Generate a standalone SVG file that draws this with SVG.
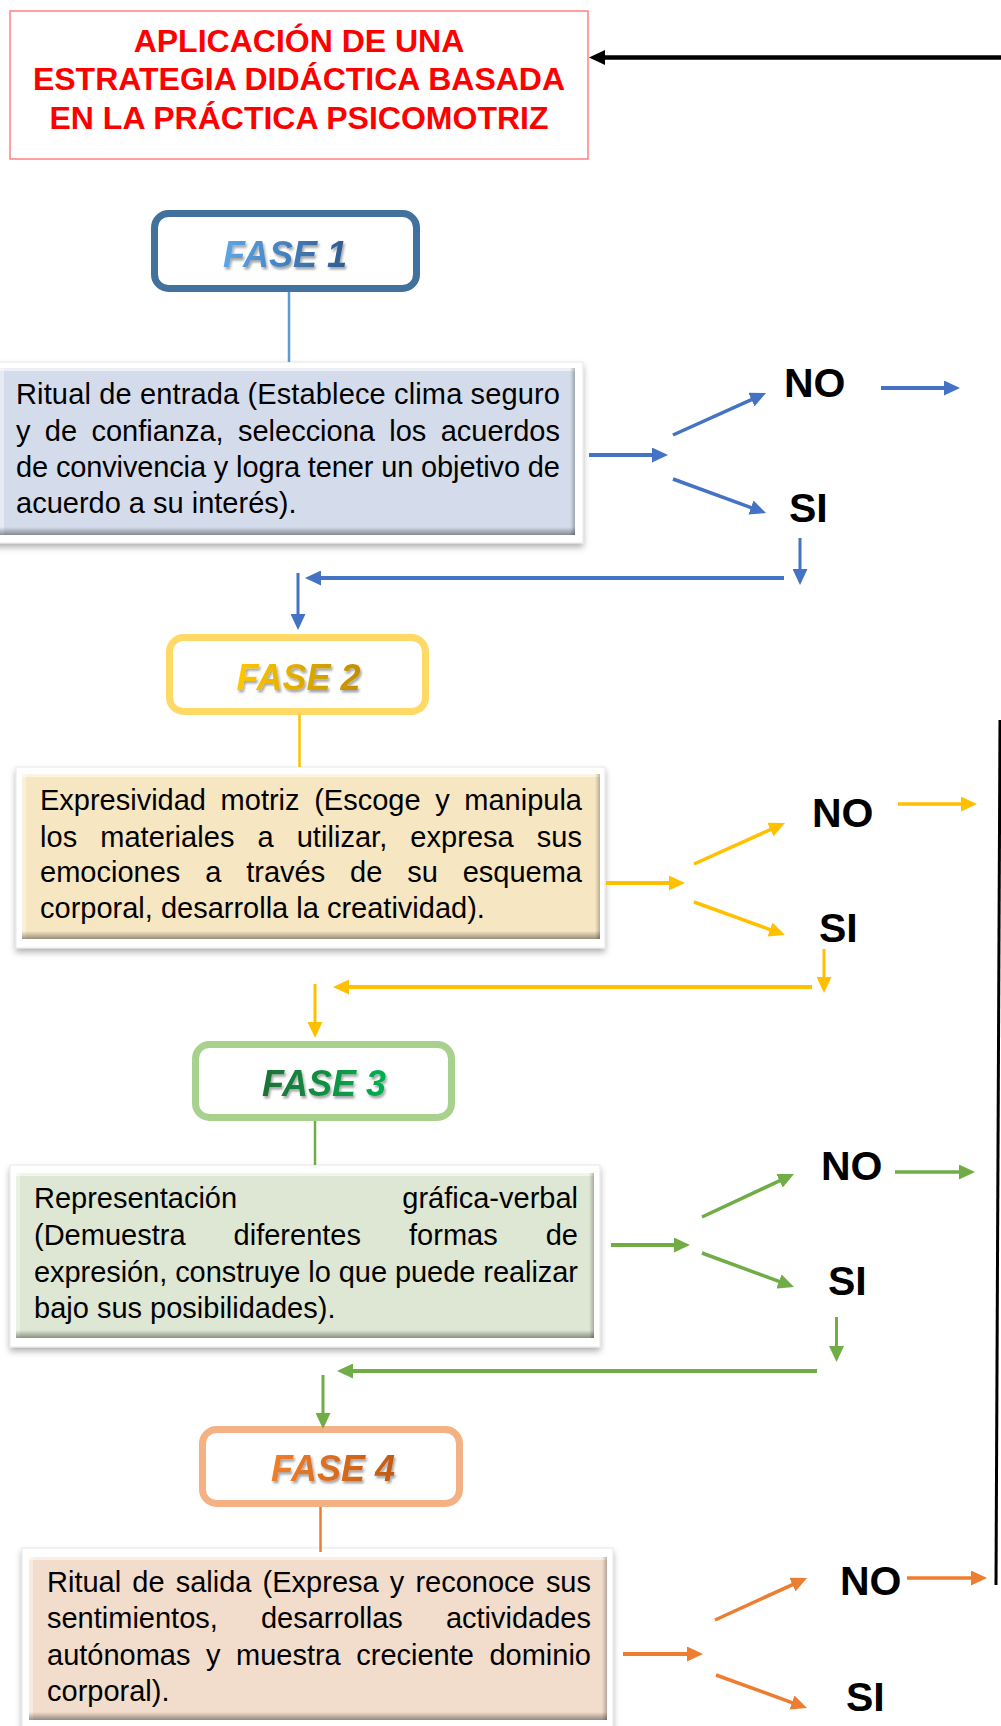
<svg xmlns="http://www.w3.org/2000/svg" width="1001" height="1726" viewBox="0 0 1001 1726">
<style>
.title{font-family:"Liberation Sans",Arial,sans-serif;font-weight:bold;font-size:32px;fill:#FF0000;text-anchor:middle}
.fase{font-family:"Liberation Sans",Arial,sans-serif;font-weight:bold;font-style:italic;font-size:36px;text-anchor:middle}
.body{font-family:"Liberation Sans",Arial,sans-serif;font-size:29px;fill:#000}
.yn{font-family:"Liberation Sans",Arial,sans-serif;font-weight:bold;font-size:41px;fill:#000}
.frame{fill:#fff;stroke:#e2e2e2;stroke-width:0.8}
.hl-top{fill:#fff;opacity:0.55}
.hl-left{fill:#fff;opacity:0.4}
.phase{fill:#fff;stroke-width:7}
.ln{fill:none}
.blue{stroke:#4472C4}
.yel{stroke:#FFC000}
.grn{stroke:#70AD47}
.org{stroke:#ED7D31}
</style>
<defs>
<marker id="ahBlue" markerUnits="userSpaceOnUse" markerWidth="16" markerHeight="15" refX="8" refY="7.5" orient="auto"><path d="M0,0 L16,7.5 L0,15 z" fill="#4472C4"/></marker>
<marker id="ahYel" markerUnits="userSpaceOnUse" markerWidth="16" markerHeight="15" refX="8" refY="7.5" orient="auto"><path d="M0,0 L16,7.5 L0,15 z" fill="#FFC000"/></marker>
<marker id="ahGrn" markerUnits="userSpaceOnUse" markerWidth="16" markerHeight="15" refX="8" refY="7.5" orient="auto"><path d="M0,0 L16,7.5 L0,15 z" fill="#70AD47"/></marker>
<marker id="ahOrg" markerUnits="userSpaceOnUse" markerWidth="16" markerHeight="15" refX="8" refY="7.5" orient="auto"><path d="M0,0 L16,7.5 L0,15 z" fill="#ED7D31"/></marker>
<marker id="ahBlk" markerUnits="userSpaceOnUse" markerWidth="16" markerHeight="15" refX="8" refY="7.5" orient="auto"><path d="M0,0 L16,7.5 L0,15 z" fill="#000"/></marker>
<linearGradient id="g1" x1="0" y1="0" x2="1" y2="0"><stop offset="0" stop-color="#5EA6E8"/><stop offset="1" stop-color="#2D5C8F"/></linearGradient>
<linearGradient id="g2" x1="0" y1="0" x2="1" y2="0"><stop offset="0" stop-color="#FFC800"/><stop offset="1" stop-color="#BF8F00"/></linearGradient>
<linearGradient id="g3" x1="0" y1="0" x2="1" y2="0"><stop offset="0" stop-color="#1F7035"/><stop offset="1" stop-color="#00B050"/></linearGradient>
<linearGradient id="g4" x1="0" y1="0" x2="1" y2="0"><stop offset="0" stop-color="#F07F2C"/><stop offset="1" stop-color="#C05A14"/></linearGradient>
<linearGradient id="bevB" x1="0" y1="0" x2="0" y2="1"><stop offset="0" stop-color="#000" stop-opacity="0"/><stop offset="1" stop-color="#000" stop-opacity="0.38"/></linearGradient>
<linearGradient id="bevR" x1="0" y1="0" x2="1" y2="0"><stop offset="0" stop-color="#000" stop-opacity="0"/><stop offset="1" stop-color="#000" stop-opacity="0.25"/></linearGradient>
<filter id="sh" x="-5%" y="-10%" width="110%" height="125%"><feDropShadow dx="0" dy="4" stdDeviation="3" flood-color="#000" flood-opacity="0.3"/></filter>
<filter id="tsh" x="-10%" y="-20%" width="120%" height="150%"><feDropShadow dx="1.5" dy="2.5" stdDeviation="1.2" flood-color="#000" flood-opacity="0.35"/></filter>
</defs>

<g id="title">
<rect x="10" y="11" width="578" height="148" fill="#fff" stroke="#FF8080" stroke-width="1.5"/>
<text class="title" x="299" y="52">APLICACIÓN DE UNA</text>
<text class="title" x="299" y="90">ESTRATEGIA DIDÁCTICA BASADA</text>
<text class="title" x="299" y="129">EN LA PRÁCTICA PSICOMOTRIZ</text>
</g>

<g id="fase1">
<rect class="phase" x="154.5" y="213.5" width="262" height="75" rx="14" stroke="#41719C"/>
<text class="fase" x="285" y="267" fill="url(#g1)" filter="url(#tsh)">FASE 1</text>
</g>

<g id="box1">
<rect class="frame" x="-6" y="362" width="589" height="181" filter="url(#sh)"/>
<rect x="0" y="368" width="575" height="167" fill="#D4DCEB"/>
<rect class="hl-top" x="0" y="368" width="575" height="3"/>
<rect class="hl-left" x="0" y="368" width="4" height="167"/>
<rect x="570" y="368" width="5" height="167" fill="url(#bevR)"/>
<rect x="0" y="527" width="575" height="8" fill="url(#bevB)"/>
<text class="body" x="16" y="404" textLength="544" lengthAdjust="spacing">Ritual de entrada (Establece clima seguro</text>
<text class="body" x="16" y="440.5" word-spacing="6.3" textLength="544" lengthAdjust="spacing">y de confianza, selecciona los acuerdos</text>
<text class="body" x="16" y="476.5" textLength="544" lengthAdjust="spacing">de convivencia y logra tener un objetivo de</text>
<text class="body" x="16" y="513">acuerdo a su interés).</text>
</g>

<g id="fase2">
<rect class="phase" x="169.5" y="637.5" width="256" height="74" rx="14" stroke="#FFD966"/>
<text class="fase" x="298.5" y="690" fill="url(#g2)" filter="url(#tsh)">FASE 2</text>
</g>

<g id="box2">
<rect class="frame" x="16" y="767" width="589" height="181" filter="url(#sh)"/>
<rect x="22" y="774" width="578" height="165" fill="#F6E6C2"/>
<rect class="hl-top" x="22" y="774" width="578" height="3"/>
<rect class="hl-left" x="22" y="774" width="4" height="165"/>
<rect x="595" y="774" width="5" height="165" fill="url(#bevR)"/>
<rect x="22" y="931" width="578" height="8" fill="url(#bevB)"/>
<text class="body" x="40" y="810" word-spacing="6.6" textLength="542" lengthAdjust="spacing">Expresividad motriz (Escoge y manipula</text>
<text class="body" x="40" y="847" word-spacing="14.9" textLength="542" lengthAdjust="spacing">los materiales a utilizar, expresa sus</text>
<text class="body" x="40" y="882" word-spacing="16.8" textLength="542" lengthAdjust="spacing">emociones a través de su esquema</text>
<text class="body" x="40" y="918">corporal, desarrolla la creatividad).</text>
</g>

<g id="fase3">
<rect class="phase" x="195.5" y="1044.5" width="256" height="73" rx="14" stroke="#A9D18E"/>
<text class="fase" x="324" y="1096" fill="url(#g3)" filter="url(#tsh)">FASE 3</text>
</g>

<g id="box3">
<rect class="frame" x="10" y="1165" width="590" height="182" filter="url(#sh)"/>
<rect x="16" y="1173" width="578" height="165" fill="#DDE7D3"/>
<rect class="hl-top" x="16" y="1173" width="578" height="3"/>
<rect class="hl-left" x="16" y="1173" width="4" height="165"/>
<rect x="589" y="1173" width="5" height="165" fill="url(#bevR)"/>
<rect x="16" y="1330" width="578" height="8" fill="url(#bevB)"/>
<text class="body" x="34" y="1208">Representación</text>
<text class="body" x="578" y="1208" text-anchor="end">gráfica-verbal</text>
<text class="body" x="34" y="1245" word-spacing="40" textLength="544" lengthAdjust="spacing">(Demuestra diferentes formas de</text>
<text class="body" x="34" y="1282" textLength="544" lengthAdjust="spacing">expresión, construye lo que puede realizar</text>
<text class="body" x="34" y="1318">bajo sus posibilidades).</text>
</g>

<g id="fase4">
<rect class="phase" x="202.5" y="1429.5" width="257" height="74" rx="14" stroke="#F4B183"/>
<text class="fase" x="333" y="1481" fill="url(#g4)" filter="url(#tsh)">FASE 4</text>
</g>

<g id="box4">
<rect class="frame" x="22" y="1548" width="591" height="182" filter="url(#sh)"/>
<rect x="29" y="1557" width="578" height="163" fill="#F2DCCC"/>
<rect class="hl-top" x="29" y="1557" width="578" height="3"/>
<rect class="hl-left" x="29" y="1557" width="4" height="163"/>
<rect x="602" y="1557" width="5" height="163" fill="url(#bevR)"/>
<rect x="29" y="1712" width="578" height="8" fill="url(#bevB)"/>
<text class="body" x="47" y="1592" word-spacing="3.1" textLength="544" lengthAdjust="spacing">Ritual de salida (Expresa y reconoce sus</text>
<text class="body" x="47" y="1628" word-spacing="35.1" textLength="544" lengthAdjust="spacing">sentimientos, desarrollas actividades</text>
<text class="body" x="47" y="1665" word-spacing="7.5" textLength="544" lengthAdjust="spacing">autónomas y muestra creciente dominio</text>
<text class="body" x="47" y="1701">corporal).</text>
</g>

<g id="labels">
<text class="yn" x="784" y="397">NO</text>
<text class="yn" x="789" y="522">SI</text>
<text class="yn" x="812" y="827">NO</text>
<text class="yn" x="819" y="942">SI</text>
<text class="yn" x="821" y="1180">NO</text>
<text class="yn" x="828" y="1295">SI</text>
<text class="yn" x="840" y="1595">NO</text>
<text class="yn" x="846" y="1711">SI</text>
</g>

<g id="connectors">
<!-- phase to box links -->
<line x1="289" y1="292" x2="289" y2="362" stroke="#5B9BD5" stroke-width="2.5"/>
<line x1="299.5" y1="715" x2="299.5" y2="767" stroke="#FFC000" stroke-width="2.5"/>
<line x1="315" y1="1121" x2="315" y2="1165" stroke="#70AD47" stroke-width="2.5"/>
<line x1="320.5" y1="1507" x2="320.5" y2="1552" stroke="#ED7D31" stroke-width="2.5"/>

<!-- blue -->
<path class="ln blue" stroke-width="4" d="M589,455 L660,455" marker-end="url(#ahBlue)"/>
<path class="ln blue" stroke-width="3.5" d="M673,435 L758.7,396.3" marker-end="url(#ahBlue)"/>
<path class="ln blue" stroke-width="3.5" d="M673,479 L758.5,510.3" marker-end="url(#ahBlue)"/>
<path class="ln blue" stroke-width="4" d="M881,388 L952,388" marker-end="url(#ahBlue)"/>
<path class="ln blue" stroke-width="3" d="M800,538 L800,577" marker-end="url(#ahBlue)"/>
<path class="ln blue" stroke-width="4" d="M784,578 L313,578" marker-end="url(#ahBlue)"/>
<path class="ln blue" stroke-width="3" d="M298,573 L298,622" marker-end="url(#ahBlue)"/>

<!-- yellow -->
<path class="ln yel" stroke-width="4" d="M606,883 L677,883" marker-end="url(#ahYel)"/>
<path class="ln yel" stroke-width="3.5" d="M694,864 L777.7,826.3" marker-end="url(#ahYel)"/>
<path class="ln yel" stroke-width="3.5" d="M694,902 L777.5,932.3" marker-end="url(#ahYel)"/>
<path class="ln yel" stroke-width="3.5" d="M898,804 L969,804" marker-end="url(#ahYel)"/>
<path class="ln yel" stroke-width="3" d="M824,949 L824,985" marker-end="url(#ahYel)"/>
<path class="ln yel" stroke-width="4" d="M812,987 L341,987" marker-end="url(#ahYel)"/>
<path class="ln yel" stroke-width="3" d="M315,984 L315,1030" marker-end="url(#ahYel)"/>

<!-- green -->
<path class="ln grn" stroke-width="4" d="M611,1245 L682,1245" marker-end="url(#ahGrn)"/>
<path class="ln grn" stroke-width="3.5" d="M702,1217 L786.8,1177.4" marker-end="url(#ahGrn)"/>
<path class="ln grn" stroke-width="3.5" d="M702,1253 L786.5,1284.2" marker-end="url(#ahGrn)"/>
<path class="ln grn" stroke-width="3.5" d="M895,1172 L967,1172" marker-end="url(#ahGrn)"/>
<path class="ln grn" stroke-width="3" d="M836.5,1317 L836.5,1354" marker-end="url(#ahGrn)"/>
<path class="ln grn" stroke-width="4" d="M817,1371 L345,1371" marker-end="url(#ahGrn)"/>
<path class="ln grn" stroke-width="3" d="M323,1375 L323,1421" marker-end="url(#ahGrn)"/>

<!-- orange -->
<path class="ln org" stroke-width="4" d="M623,1654 L695,1654" marker-end="url(#ahOrg)"/>
<path class="ln org" stroke-width="3.5" d="M715,1620 L799.7,1581.3" marker-end="url(#ahOrg)"/>
<path class="ln org" stroke-width="3.5" d="M716,1675 L799.5,1705.3" marker-end="url(#ahOrg)"/>
<path class="ln org" stroke-width="3.5" d="M907,1578 L979,1578" marker-end="url(#ahOrg)"/>

<!-- black return -->
<path class="ln" stroke="#000" stroke-width="3" d="M1000,720 L996,1585"/>
<path class="ln" stroke="#000" stroke-width="4.5" d="M1003,57.5 L597,57.5" marker-end="url(#ahBlk)"/>
</g>
</svg>
